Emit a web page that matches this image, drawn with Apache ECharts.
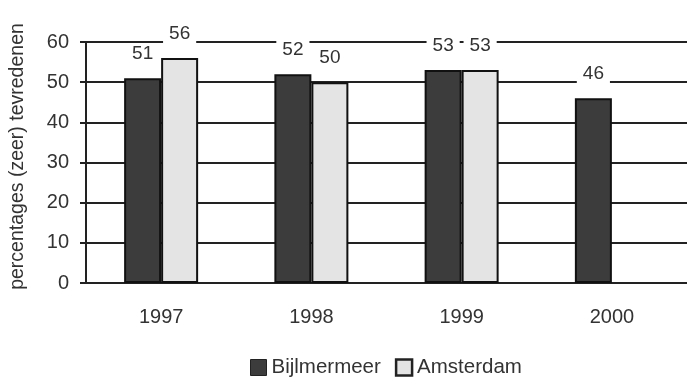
<!DOCTYPE html>
<html>
<head>
<meta charset="utf-8">
<script src="https://cdn.jsdelivr.net/npm/echarts@6/dist/echarts.min.js"></script>
<style>
  html, body { margin: 0; padding: 0; background: #fff; }
  #chart { width: 687px; height: 384px; }
</style>
</head>
<body>
<div id="chart"></div>
<script>
// Satisfaction percentages per year
const years = ['1997', '1998', '1999', '2000'];
const bijlmermeer = [51, 52, 53, 46];
const amsterdam = [56, 50, 53, null];
const yTicks = [0, 10, 20, 30, 40, 50, 60];

const font = '"Liberation Sans", Arial, sans-serif';
const ink = '#222';
const textInk = '#333';

// value labels sit on a white box so the grid lines break around them
const valueLabel = {
  show: true,
  position: 'top',
  distance: 14,
  color: textInk,
  fontFamily: font,
  fontSize: 19,
  backgroundColor: '#fff',
  padding: [1, 6, 1, 6]
};

const chart = echarts.init(document.getElementById('chart'));
chart.setOption({
  animation: false,
  grid: { left: 84, right: 0, top: 42, bottom: 101 },
  legend: {
    bottom: 1,
    left: 245,
    icon: 'rect',
    itemWidth: 16,
    itemHeight: 16,
    itemGap: 14,
    textStyle: { color: textInk, fontFamily: font, fontSize: 20.5 },
    data: [
      { name: 'Bijlmermeer', itemStyle: { color: '#3c3c3c', borderColor: '#222', borderWidth: 1 } },
      { name: 'Amsterdam', itemStyle: { color: '#e4e4e4', borderColor: '#222', borderWidth: 2.5 } }
    ]
  },
  xAxis: {
    type: 'category',
    data: years,
    axisLine: { show: true, lineStyle: { color: ink, width: 2 } },
    axisTick: { show: false },
    axisLabel: { color: textInk, fontFamily: font, fontSize: 20, margin: 24 }
  },
  yAxis: {
    type: 'value',
    min: yTicks[0],
    max: yTicks[yTicks.length - 1],
    interval: 10,
    name: 'percentages (zeer) tevredenen',
    nameLocation: 'middle',
    nameRotate: 90,
    nameGap: 58,
    nameTextStyle: { color: textInk, fontFamily: font, fontSize: 19.5, padding: [0, 0, 0, 12] },
    axisLine: { show: true, lineStyle: { color: ink, width: 2 } },
    axisTick: { show: true, length: 6, lineStyle: { color: ink, width: 2 } },
    axisLabel: { color: textInk, fontFamily: font, fontSize: 20, margin: 17 },
    splitLine: { show: true, lineStyle: { color: ink, width: 2 } }
  },
  series: [
    {
      name: 'Bijlmermeer',
      type: 'bar',
      data: bijlmermeer,
      barWidth: 37,
      barGap: '0%',
      itemStyle: { color: '#3c3c3c', borderColor: '#111', borderWidth: 2 },
      label: valueLabel,
      z: 3
    },
    {
      name: 'Amsterdam',
      type: 'bar',
      data: amsterdam,
      barWidth: 37,
      barGap: '0%',
      itemStyle: { color: '#e4e4e4', borderColor: '#111', borderWidth: 2 },
      label: valueLabel,
      z: 3
    }
  ]
});
</script>
</body>
</html>
